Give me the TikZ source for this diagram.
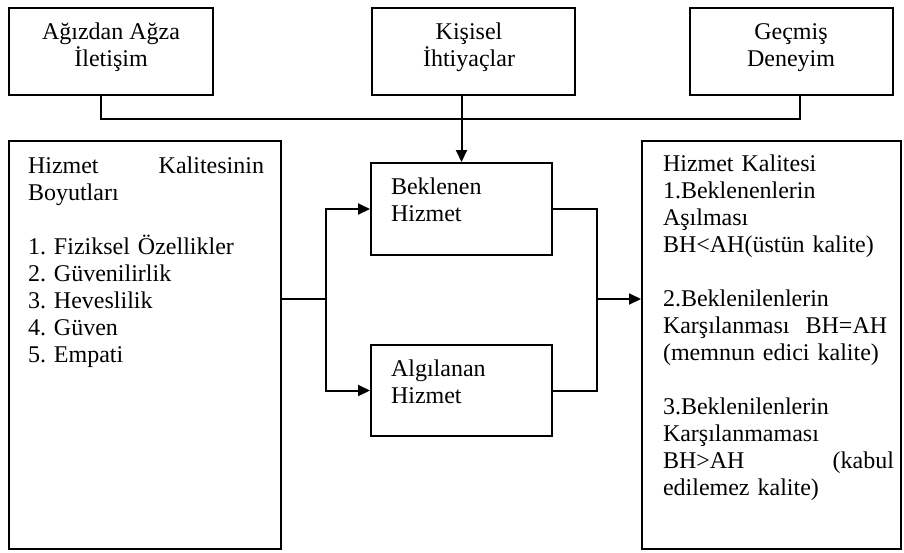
\documentclass[tikz,border=0pt]{standalone}
\usepackage{fontspec}
\setmainfont{Liberation Serif}
\usetikzlibrary{arrows.meta,positioning}

\begin{document}
\begin{tikzpicture}[x=0.5pt, y=-0.5pt, line width=1pt,
  every node/.style={font=\fontsize{12}{13.5}\selectfont\frenchspacing, inner sep=0pt},
  kutu/.style={draw, rectangle, line width=1pt},
  ok/.style={-{Triangle[length=6pt,width=5.5pt]}}]

\useasboundingbox (0,0) rectangle (904,552);

% Top boxes
\node[kutu, minimum width=102pt, minimum height=43.5pt] (agiz) at (111,51.5) {};
\node[kutu, minimum width=101.5pt, minimum height=43.5pt] (kisisel) at (473.5,51.5) {};
\node[kutu, minimum width=101.5pt, minimum height=43.5pt] (gecmis) at (791.5,51.5) {};
\node[anchor=base, align=center] (agizyazi) at (111,66) {Ağızdan Ağza\\İletişim};
\node[anchor=base, align=center] (kisiselyazi) at (469,66) {Kişisel\\İhtiyaçlar};
\node[anchor=base, align=center] (gecmisyazi) at (791,66) {Geçmiş\\Deneyim};

% Side boxes
\node[kutu, minimum width=136pt, minimum height=204pt] (boyut) at (145,345) {};
\node[kutu, minimum width=129.5pt, minimum height=204pt] (kalite) at (771.5,345) {};
\node[anchor=base west, text width=118pt, align=left] (boyutyazi) at (27,173)
  {Hizmet\hfill Kalitesinin\\Boyutları\\[13.5pt]1. Fiziksel Özellikler\\2. Güvenilirlik\\3. Heveslilik\\4. Güven\\5. Empati};
\node[anchor=base west, text width=115.5pt, align=left] (kaliteyazi) at (662,171)
  {Hizmet Kalitesi\\1.Beklenenlerin\\Aşılması\\BH<AH(üstün kalite)\\[13.5pt]2.Beklenilenlerin\\Karşılanması\ \ BH=AH\\(memnun edici kalite)\\[13.5pt]3.Beklenilenlerin\\Karşılanmaması\\BH>AH\hfill(kabul\\edilemez kalite)};

% Middle boxes
\node[kutu, minimum width=90.5pt, minimum height=46pt] (beklenen) at (461.5,209) {};
\node[kutu, minimum width=90.5pt, minimum height=45.5pt] (algilanan) at (461.5,390.5) {};
\node[anchor=base west, align=left] (beklenenyazi) at (390,221) {Beklenen\\Hizmet};
\node[anchor=base west, align=left] (algilananyazi) at (390,403) {Algılanan\\Hizmet};

% Connectors
\coordinate (bus) at (462,119);
\coordinate (ayrim) at (326,299);
\coordinate (birlesim) at (597,299);
\draw ([xshift=-5pt]agiz.south) |- (bus) -| ([xshift=4.25pt]gecmis.south);
\draw[ok] (kisisel.south -| beklenen.north) -- (beklenen.north);
\draw (boyut.east |- ayrim) -- (ayrim);
\draw[ok] (ayrim) |- (beklenen.west);
\draw[ok] (ayrim) |- (algilanan.west);
\draw (beklenen.east) -| (birlesim);
\draw (algilanan.east) -| (birlesim);
\draw[ok] (birlesim) -- (kalite.west |- birlesim);

\end{tikzpicture}
\end{document}
